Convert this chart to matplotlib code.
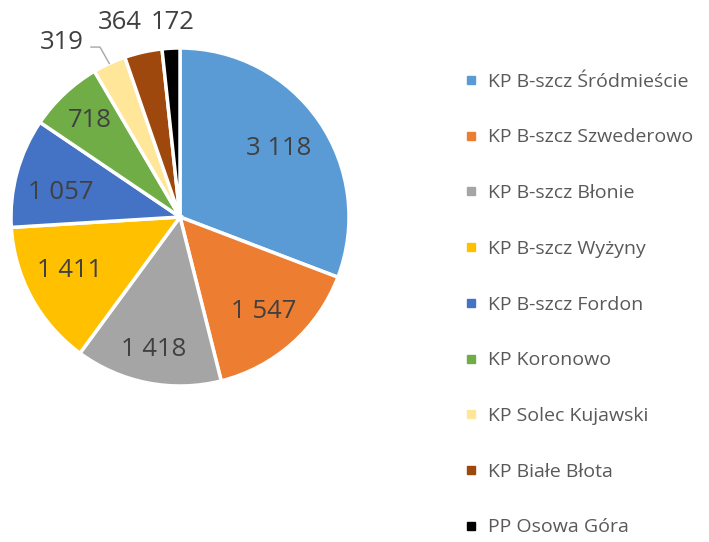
import numpy as np
import matplotlib
matplotlib.use("Agg")
import matplotlib.pyplot as plt
from matplotlib.lines import Line2D

plt.rcParams['font.family'] = ['Open Sans', 'DejaVu Sans']

# data
units = ['KP B-szcz Śródmieście', 'KP B-szcz Szwederowo', 'KP B-szcz Błonie',
         'KP B-szcz Wyżyny', 'KP B-szcz Fordon', 'KP Koronowo',
         'KP Solec Kujawski', 'KP Białe Błota', 'PP Osowa Góra']
counts = [3118, 1547, 1418, 1411, 1057, 718, 319, 364, 172]
colors = ['#5B9BD5', '#ED7D31', '#A5A5A5', '#FFC000', '#4472C4',
          '#70AD47', '#FFE699', '#9E480E', '#000000']

# label placement (radius, x / y nudges) per slice
label_r = [0.71, 0.745, 0.80, 0.745, 0.73, 0.78, 1.14, 1.18, 1.155]
label_dx = [0, 0, 0, 0, 0, 0, -0.22, -0.10, 0.02]
label_dy = [0, 0, 0, 0.04, -0.05, 0, 0, 0, 0]

def fmt(v):
    return f"{v:,}".replace(",", " ")

W, H = 709, 542
fig = plt.figure(figsize=(W / 100, H / 100), dpi=100)
cx, cy, R = 180, 217, 169
ax = fig.add_axes([(cx - R) / W, (H - cy - R) / H, 2 * R / W, 2 * R / H])

wedges, _ = ax.pie(counts, colors=colors, startangle=90, counterclock=False,
                   wedgeprops=dict(edgecolor='white', linewidth=2.5))
ax.set_xlim(-1, 1)
ax.set_ylim(-1, 1)
ax.set_aspect('equal')
ax.axis('off')

total = float(sum(counts))
cum = 0
for i, v in enumerate(counts):
    mid = (cum + v / 2) / total
    cum += v
    ang = np.pi / 2 - 2 * np.pi * mid
    x = label_r[i] * np.cos(ang) + label_dx[i]
    y = label_r[i] * np.sin(ang) + label_dy[i]
    ax.text(x, y, fmt(v), ha='center', va='center', fontsize=18.5,
            color='#404040', clip_on=False)
    if i == 6:
        # leader line for the small slice
        ex, ey = np.cos(ang), np.sin(ang)
        ax.plot([ex, ex - 0.055, x + 0.17], [ey, y - 0.03, y - 0.03],
                color='#A6A6A6', lw=1, clip_on=False)

handles = [Line2D([0], [0], marker='s', linestyle='none', markersize=6,
                  markerfacecolor=c, markeredgecolor=c) for c in colors]
fig.legend(handles, units, loc='upper left', bbox_to_anchor=(454 / W, 1 - 63 / H),
           frameon=False, fontsize=14, labelcolor='#595959',
           handlelength=0.7, handletextpad=0.55, labelspacing=1.94, borderpad=0)

fig.savefig('out.png', dpi=100)
